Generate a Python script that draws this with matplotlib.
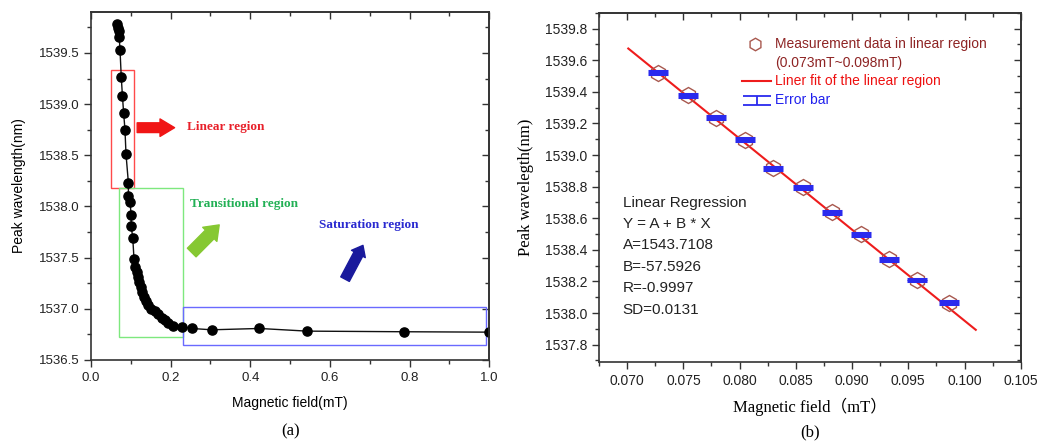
import numpy as np
import matplotlib
matplotlib.use("Agg")
import matplotlib.pyplot as plt
from matplotlib.patches import Rectangle
from matplotlib.ticker import MultipleLocator

plt.rcParams['font.family'] = ['Liberation Sans', 'DejaVu Sans']

# (a) peak wavelength vs magnetic field, whole range
field_a = [0.0645, 0.067, 0.0695, 0.071, 0.073, 0.076, 0.079, 0.082, 0.0854, 0.088, 0.094,
           0.094, 0.098, 0.101, 0.101, 0.105, 0.108, 0.110, 0.115, 0.118, 0.121, 0.125,
           0.128, 0.133, 0.138, 0.144, 0.152, 0.161, 0.169, 0.178, 0.186, 0.194, 0.205,
           0.229, 0.253, 0.303, 0.423, 0.543, 0.785, 1.0]
peak_a = [1539.785, 1539.745, 1539.71, 1539.655, 1539.525, 1539.27, 1539.08, 1538.915, 1538.75,
          1538.51, 1538.23, 1538.106, 1538.04, 1537.92, 1537.81, 1537.69, 1537.49, 1537.41,
          1537.36, 1537.31, 1537.26, 1537.21, 1537.165, 1537.12, 1537.08, 1537.035, 1537.00,
          1536.977, 1536.945, 1536.915, 1536.89, 1536.857, 1536.834, 1536.825, 1536.808,
          1536.795, 1536.808, 1536.782, 1536.776, 1536.772]

# (b) linear region
field_b = [0.07275, 0.07538, 0.07793, 0.08048, 0.0830, 0.0856, 0.0882, 0.0908, 0.0933, 0.0958, 0.0986]
peak_b = [1539.520, 1539.378, 1539.237, 1539.098, 1538.917, 1538.795, 1538.637, 1538.498,
          1538.340, 1538.209, 1538.066]
err_b = [0.009] * 11
fit_x = [0.0701, 0.1010]
fit_y = [1539.674, 1537.894]
reg_lines = ["Linear Regression", "Y = A + B * X", "A=1543.7108", "B=-57.5926", "R=-0.9997", "SD=0.0131"]

fig = plt.figure(figsize=(10.48, 4.41), dpi=100)

def mirror_ticks(ax, xmaj, xmin, ymaj, ymin):
    ax.xaxis.set_major_locator(MultipleLocator(xmaj))
    ax.xaxis.set_minor_locator(MultipleLocator(xmin))
    ax.yaxis.set_major_locator(MultipleLocator(ymaj))
    ax.yaxis.set_minor_locator(MultipleLocator(ymin))
    ax.tick_params(which='major', direction='out', length=5, width=1, colors='#333333')
    ax.tick_params(which='minor', direction='out', length=3, width=1, colors='#333333')
    ax.tick_params(labelcolor='#222222')
    top = ax.secondary_xaxis('top')
    right = ax.secondary_yaxis('right')
    for s in (top, right):
        s.tick_params(which='major', direction='in', length=5, width=1, colors='#333333')
        s.tick_params(which='minor', direction='in', length=3, width=1, colors='#333333')
        s.spines[:].set_linewidth(1.2)
        s.spines[:].set_color('#333333')
    top.xaxis.set_major_locator(MultipleLocator(xmaj))
    top.xaxis.set_minor_locator(MultipleLocator(xmin))
    right.yaxis.set_major_locator(MultipleLocator(ymaj))
    right.yaxis.set_minor_locator(MultipleLocator(ymin))
    top.set_xticklabels([])
    right.set_yticklabels([])
    for sp in ax.spines.values():
        sp.set_linewidth(1.2)
        sp.set_color('#333333')

# ---------- (a) ----------
ax1 = fig.add_axes([0.0868, 0.1837, 0.380, 0.789])
ax1.plot(field_a, peak_a, '-', color='#111111', lw=1.0, marker='o', ms=6.6, mfc='black', mec='black')
ax1.set_xlim(0, 1.0)
ax1.set_ylim(1536.5, 1539.9)
mirror_ticks(ax1, 0.2, 0.1, 0.5, 0.25)
ax1.tick_params(labelsize=9.5)

ax1.add_patch(Rectangle((0.0495, 1538.18), 0.0585, 1.15, fill=False, ec='#ff4a4a', lw=1))
ax1.add_patch(Rectangle((0.0696, 1536.72), 0.1604, 1.46, fill=False, ec='#7ee87e', lw=1))
ax1.add_patch(Rectangle((0.230, 1536.646), 0.763, 0.374, fill=False, ec='#6a6aff', lw=1))

ax1.annotate('', xy=(0.210, 1538.77), xytext=(0.116, 1538.77),
             arrowprops=dict(arrowstyle='simple,head_width=0.9,head_length=0.75,tail_width=0.5',
                             color='#f01515', shrinkA=0, shrinkB=0, mutation_scale=14))
ax1.text(0.240, 1538.78, 'Linear region', color='#e8202a', fontsize=9.5, fontweight='bold',
         family='Liberation Serif', va='center', ha='left')
ax1.annotate('', xy=(0.322, 1537.82), xytext=(0.253, 1537.55),
             arrowprops=dict(arrowstyle='simple,head_width=0.9,head_length=0.6,tail_width=0.55',
                             color='#86c832', shrinkA=0, shrinkB=0, mutation_scale=16))
ax1.text(0.249, 1538.02, 'Transitional region', color='#22b055', fontsize=9.5, fontweight='bold',
         family='Liberation Serif', va='center', ha='left')
ax1.annotate('', xy=(0.683, 1537.62), xytext=(0.638, 1537.29),
             arrowprops=dict(arrowstyle='simple,head_width=0.8,head_length=0.5,tail_width=0.5',
                             color='#1a1a9c', shrinkA=0, shrinkB=0, mutation_scale=14))
ax1.text(0.573, 1537.82, 'Saturation region', color='#2a2ad0', fontsize=9.5, fontweight='bold',
         family='Liberation Serif', va='center', ha='left')

ax1.set_xlabel('Magnetic field(mT)', fontsize=10, labelpad=9)
ax1.set_ylabel('Peak wavelength(nm)', fontsize=10, labelpad=9)
fig.text(0.277, 0.0227, '(a)', family='Liberation Serif', fontsize=12, ha='center', va='center')

# ---------- (b) ----------
ax2 = fig.add_axes([0.5716, 0.179, 0.4024, 0.792])
ax2.plot(fit_x, fit_y, '-', color='#ee1c1c', lw=1.5, zorder=2)
ax2.plot(field_b, peak_b, linestyle='none', marker='h', ms=11.5, mfc='none', mec='#a8584e', mew=1.0, zorder=3)
ax2.errorbar(field_b, peak_b, yerr=err_b, fmt='none', ecolor='#2a2aee', elinewidth=1.5,
             capsize=7, capthick=2.2, zorder=4)
ax2.set_xlim(0.0675, 0.105)
ax2.set_ylim(1537.69, 1539.9)
mirror_ticks(ax2, 0.005, 0.0025, 0.2, 0.1)
ax2.tick_params(labelsize=10)
ax2.xaxis.set_major_formatter(matplotlib.ticker.FormatStrFormatter('%.3f'))
ax2.yaxis.set_major_formatter(matplotlib.ticker.FormatStrFormatter('%.1f'))

# legend drawn by hand
tr = ax2.transAxes
ax2.plot([0.370], [0.912], marker='h', ms=9, mfc='none', mec='#a8584e', mew=1.0, transform=tr, clip_on=False)
ax2.text(0.417, 0.912, 'Measurement data in linear region', color='#8e2424', fontsize=10, transform=tr, va='center')
ax2.text(0.417, 0.855, '(0.073mT~0.098mT)', color='#8e2424', fontsize=10, transform=tr, va='center')
ax2.plot([0.340, 0.407], [0.804, 0.804], color='#ee1c1c', lw=1.5, transform=tr)
ax2.text(0.417, 0.804, 'Liner fit of the linear region', color='#ee1010', fontsize=10, transform=tr, va='center')
ax2.errorbar([0.374], [0.750], yerr=[0.013], fmt='none', ecolor='#2a2aee', elinewidth=1.3,
             capsize=10, capthick=1.3, transform=tr)
ax2.text(0.417, 0.750, 'Error bar', color='#2020ee', fontsize=10, transform=tr, va='center')

ys = [0.454, 0.395, 0.335, 0.271, 0.211, 0.150]
for s, y in zip(reg_lines, ys):
    ax2.text(0.056, y, s, fontsize=11, color='#222222', transform=tr, va='center')

ax2.set_xlabel('Magnetic field（mT）', family=['Liberation Serif', 'Noto Sans CJK SC'], fontsize=12, labelpad=7)
ax2.set_ylabel('Peak wavelegth(nm)', family='Liberation Serif', fontsize=12, labelpad=8)
fig.text(0.7726, 0.0204, '(b)', family='Liberation Serif', fontsize=12, ha='center', va='center')

fig.savefig('out.png', dpi=100)
